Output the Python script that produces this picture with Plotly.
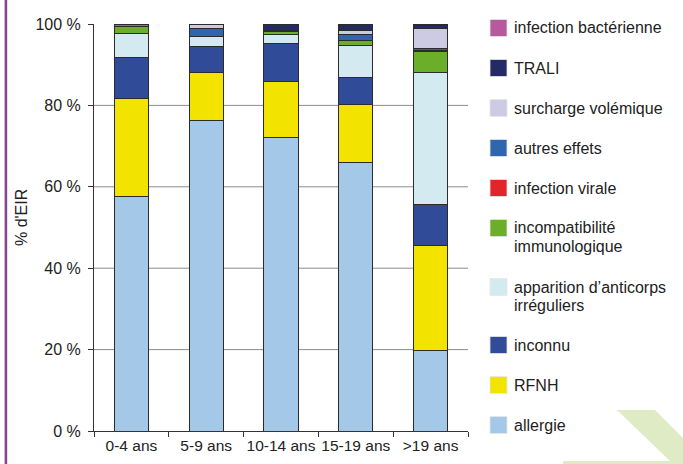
import plotly.graph_objects as go

# Tranches d'âge
categories = ["0-4 ans", "5-9 ans", "10-14 ans", "15-19 ans", ">19 ans"]

# Répartition des EIR (%) par type, du bas vers le haut de la pile
allergie = [57.5, 76.3, 72.0, 66.0, 19.7]
rfnh = [24.2, 11.8, 13.8, 14.2, 25.8]
inconnu = [10.0, 6.3, 9.3, 6.6, 10.1]
anticorps = [6.0, 2.6, 2.2, 7.8, 32.4]
incompatibilite = [1.6, 0.0, 0.8, 1.4, 5.2]
infection_virale = [0.0, 0.0, 0.0, 0.0, 0.3]
autres_effets = [0.0, 1.9, 0.4, 1.3, 0.5]
surcharge = [0.0, 1.1, 0.0, 1.2, 4.9]
trali = [0.2, 0.0, 1.5, 1.5, 0.7]
bacterienne = [0.5, 0.0, 0.0, 0.0, 0.4]

y_ticks = [0, 20, 40, 60, 80, 100]
y_tick_labels = ["0 %", "20 %", "40 %", "60 %", "80 %", "100 %"]

series = [
    ("allergie", allergie, "#a3c8e8"),
    ("RFNH", rfnh, "#f3e400"),
    ("inconnu", inconnu, "#304c99"),
    ("apparition d\u2019anticorps\nirréguliers", anticorps, "#d4eaf1"),
    ("incompatibilité\nimmunologique", incompatibilite, "#6aae2a"),
    ("infection virale", infection_virale, "#e2242b"),
    ("autres effets", autres_effets, "#2f67ae"),
    ("surcharge volémique", surcharge, "#cccbe3"),
    ("TRALI", trali, "#232a66"),
    ("infection bactérienne", bacterienne, "#b65a9d"),
]

FONT = "Liberation Sans, Arial, Helvetica, sans-serif"
TEXT = "#222222"

# Plot area in pixels
W, H = 683, 464
L, R, T, B = 94, 215, 24, 33
PW, PH = W - L - R, H - T - B


def px(x):
    return (x - L) / PW


def py(y):
    return (H - B - y) / PH


fig = go.Figure()
for name, vals, color in series:
    fig.add_trace(go.Bar(
        x=categories, y=vals, name=name.replace("\n", " "),
        marker=dict(color=color, line=dict(color="#2b2b2b", width=1)),
        width=0.455, showlegend=False,
    ))

shapes = []
# horizontal grid lines (interior ticks)
for v in y_ticks[1:-1]:
    shapes.append(dict(type="line", xref="paper", yref="y", x0=0, x1=1, y0=v, y1=v,
                       line=dict(color="#8c8c8c", width=1), layer="below"))

# left purple rule
shapes.append(dict(type="rect", xref="paper", yref="paper",
                   x0=px(4.6), x1=px(7.2), y0=py(H), y1=py(0),
                   fillcolor="#87468f", line=dict(width=0), layer="below"))

# pale green corner ornament
pts = [(617, 410), (655, 410), (683, 438), (683, 464), (563, 464), (563, 461), (670, 461)]
path = "M " + " L ".join(f"{px(x):.5f},{py(y):.5f}" for x, y in pts) + " Z"
shapes.append(dict(type="path", xref="paper", yref="paper", path=path,
                   fillcolor="#deebc5", line=dict(width=0), layer="below"))

annotations = []
# hand-built legend, top entry first
legend_items = list(reversed(series))
y_first = [28, 68, 108, 148, 188, 228, 287, 345, 385, 425]
for (name, vals, color), yc in zip(legend_items, y_first):
    shapes.append(dict(type="rect", xref="paper", yref="paper",
                       x0=px(490), x1=px(507), y0=py(yc + 8.5), y1=py(yc - 8.5),
                       fillcolor=color, line=dict(color="#e6e6e6", width=0.8)))
    for i, line in enumerate(name.split("\n")):
        annotations.append(dict(xref="paper", yref="paper", x=px(512), y=py(yc + i * 18.5),
                                text=line, showarrow=False, xanchor="left", yanchor="middle",
                                font=dict(family=FONT, size=16, color=TEXT)))

# y-axis title
annotations.append(dict(xref="paper", yref="paper", x=px(22), y=py(218), text="% d'EIR",
                        textangle=-90, showarrow=False, xanchor="center", yanchor="middle",
                        font=dict(family=FONT, size=16, color=TEXT)))

fig.update_layout(
    width=W, height=H,
    margin=dict(l=L, r=R, t=T, b=B),
    barmode="stack",
    paper_bgcolor="white", plot_bgcolor="white",
    font=dict(family=FONT, size=16, color=TEXT),
    shapes=shapes, annotations=annotations,
    showlegend=False,
    xaxis=dict(
        type="category", range=[-0.5, 4.5], showgrid=False, automargin=False,
        showline=True, linecolor="#333333", linewidth=1, tickangle=0,
        ticks="outside", tickson="boundaries", ticklen=5, tickcolor="#333333",
        tickfont=dict(family=FONT, size=15.5, color=TEXT), fixedrange=True,
    ),
    yaxis=dict(
        range=[0, 100], tickvals=y_ticks, ticktext=y_tick_labels, showgrid=False,
        zeroline=False, showline=True, linecolor="#333333", linewidth=1, automargin=False,
        ticks="outside", ticklen=5, tickcolor="#333333", ticklabelstandoff=4,
        tickfont=dict(family=FONT, size=16, color=TEXT), fixedrange=True,
    ),
)

fig.write_html("out.html", config={"displayModeBar": False})
